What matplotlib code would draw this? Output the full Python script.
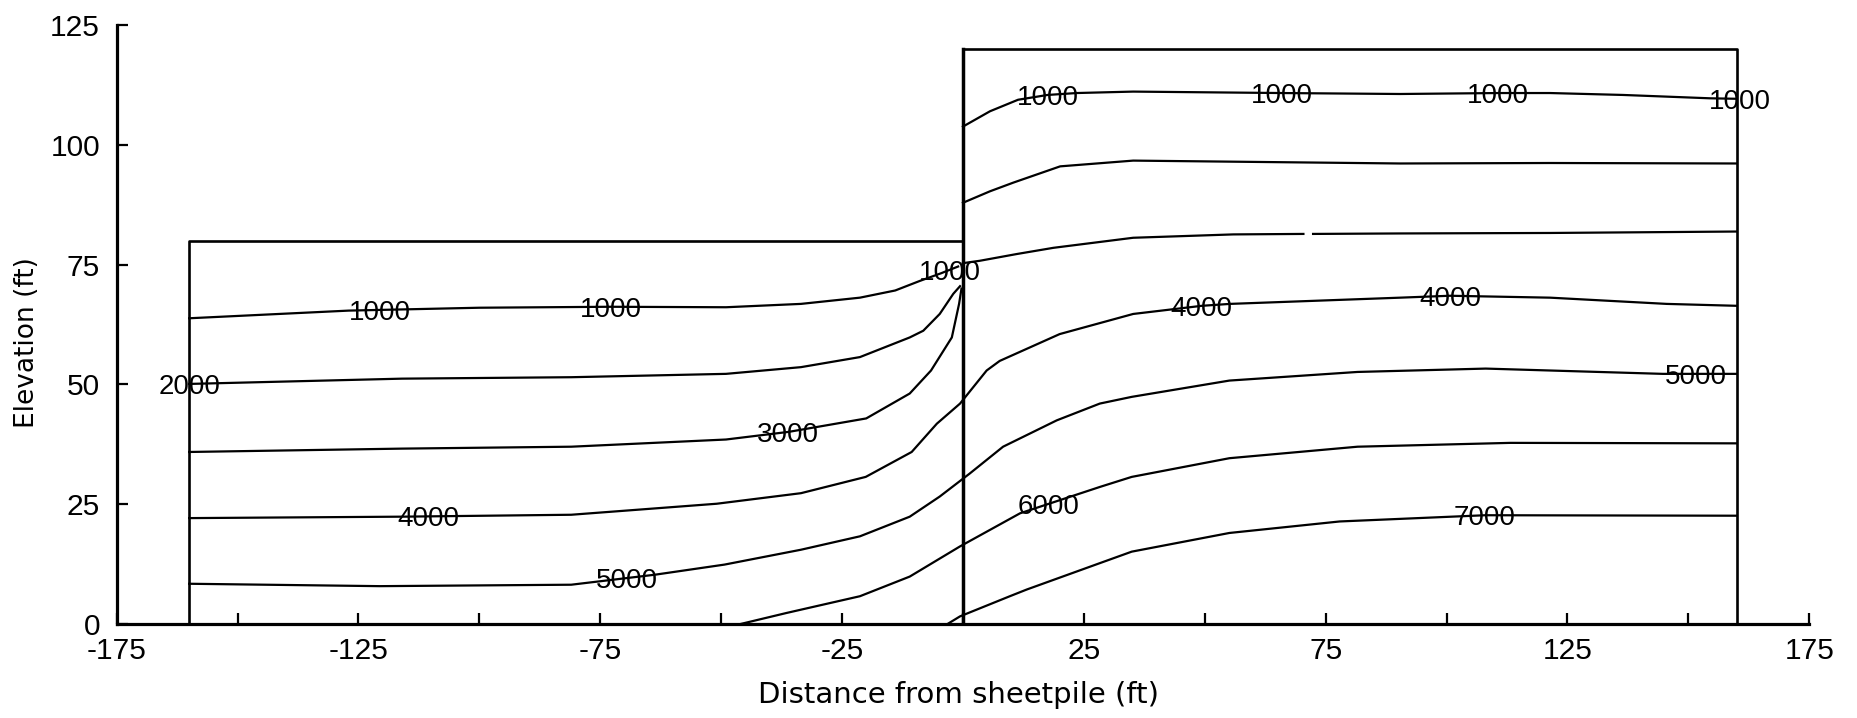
import numpy as np
import matplotlib
matplotlib.use("Agg")
import matplotlib.pyplot as plt
from matplotlib import font_manager

plt.rcParams['axes.unicode_minus'] = False

# soil profile outline (ft): retained side on the right, excavated side on the left
left_box_x = [-160, -160, 0]
left_box_y = [0, 80, 80]
right_box_x = [0, 0, 160, 160]
right_box_y = [0, 120, 120, 0]

# stress contours, traced per segment (x in ft, elevation in ft)
c1000_left_x = [-160, -127, -100, -73, -49, -33.5, -21.3, -14, -8.9, -4.5, -1]
c1000_left_y = [63.8, 65.4, 66.0, 66.2, 66.1, 66.8, 68.1, 69.6, 71.6, 73.2, 74.6]
c1000_right_x = [0, 5.6, 11.4, 17.5, 23.5, 35.2, 65.9, 90.4, 110.7, 121.4, 136.5, 154.5, 160]
c1000_right_y = [103.8, 107.0, 109.4, 110.4, 110.8, 111.1, 110.8, 110.6, 110.8, 110.8, 110.4, 109.7, 109.6]

c2000_left_x = [-160, -116, -81, -49, -33.5, -21.3, -11, -8.2, -4.8, -2, -0.6]
c2000_left_y = [50.1, 51.2, 51.5, 52.2, 53.6, 55.7, 59.8, 61.2, 64.7, 68.9, 70.5]
c2000_right_x = [0, 5.6, 10.4, 20.1, 35.2, 62.8, 90.4, 121.4, 160]
c2000_right_y = [87.9, 90.3, 92.1, 95.5, 96.7, 96.4, 96.1, 96.2, 96.1]

c3000_left_x = [-160, -116, -81, -49, -36, -20, -11, -6.6, -2.3, -0.8, -0.3]
c3000_left_y = [35.9, 36.6, 37.0, 38.5, 40.1, 42.9, 48.1, 52.9, 59.8, 66.8, 70.0]
c3000_right_x = [0, 3.5, 11.1, 18.7, 35.2, 55.9, 70.4, np.nan, 72.4, 90.4, 121.4, 160]
c3000_right_y = [75.3, 75.8, 77.2, 78.5, 80.6, 81.3, 81.4, np.nan, 81.4, 81.5, 81.6, 81.9]

c4000_x = [-160, -116, -81, -50.9, -33.5, -20.1, -10.6, -5.4, -0.6, 4.9, 7.6,
           20.0, 35.2, 49.4, 55.2, 90.4, 100.7, 121.4, 145.5, 160]
c4000_y = [22.1, 22.4, 22.8, 25.1, 27.3, 30.7, 35.9, 41.8, 46.0, 52.9, 54.9,
           60.5, 64.7, 66.4, 66.8, 68.1, 68.5, 68.1, 66.8, 66.4]

c5000_x = [-160, -120.6, -81, -63.6, -49.3, -33.5, -21.3, -11, -4.8, 1.4, 8.3,
           19.4, 28.3, 34.9, 55.1, 81.6, 108.1, 144.7, 160]
c5000_y = [8.4, 7.9, 8.2, 10.3, 12.4, 15.5, 18.3, 22.4, 26.6, 31.4, 37.0,
           42.5, 46.0, 47.4, 50.8, 52.6, 53.3, 52.2, 52.2]

c6000_x = [-46, -36.5, -21.3, -11, -0.6, 11.8, 28.3, 34.9, 55.1, 81.6, 113.2, 160]
c6000_y = [0, 2.3, 5.8, 9.9, 16.2, 23.1, 28.6, 30.7, 34.6, 37.0, 37.8, 37.7]

c7000_x = [-3.2, -0.6, 9.7, 13.2, 28.3, 34.9, 55.1, 77.9, 108, 160]
c7000_y = [0, 1.6, 5.8, 7.2, 12.7, 15.1, 19.0, 21.4, 22.7, 22.6]

segments = [
    (c1000_left_x, c1000_left_y), (c1000_right_x, c1000_right_y),
    (c2000_left_x, c2000_left_y), (c2000_right_x, c2000_right_y),
    (c3000_left_x, c3000_left_y), (c3000_right_x, c3000_right_y),
    (c4000_x, c4000_y), (c5000_x, c5000_y),
    (c6000_x, c6000_y), (c7000_x, c7000_y),
]

# inline labels: level, segment index, x position along the segment
label_level = [1000, 1000, 1000, 1000, 1000, 1000, 1000, 2000, 3000,
               4000, 4000, 4000, 5000, 5000, 6000, 7000]
label_seg = [0, 0, 0, 1, 1, 1, 1, 2, 4, 6, 6, 6, 7, 7, 8, 9]
label_x = [-120.5, -72.7, -2.6, 17.5, 65.9, 110.7, 160.7, -160, -36.1,
           -110.5, 49.4, 100.7, -69.4, 151.5, 17.6, 107.8]

x_ticks = [-175, -125, -75, -25, 25, 75, 125, 175]
x_minor = [-150, -100, -50, 0, 50, 100, 150]
y_ticks = [0, 25, 50, 75, 100, 125]

installed = {f.name for f in font_manager.fontManager.ttflist}
num_font = 'Liberation Sans' if 'Liberation Sans' in installed else 'DejaVu Sans'
text_font = 'DejaVu Sans'

fig = plt.figure(figsize=(18.57, 7.18), dpi=100)
ax = fig.add_axes([0.0628, 0.1309, 0.9115, 0.8343])

ax.plot(left_box_x, left_box_y, color='black', lw=1.9)
ax.plot(right_box_x, right_box_y, color='black', lw=1.9)
ax.plot([0, 0], [0, 120], color='black', lw=2.5)  # sheetpile

for sx, sy in segments:
    ax.plot(sx, sy, color='black', lw=1.6)

for lev, seg, lx in zip(label_level, label_seg, label_x):
    sx = np.array(segments[seg][0], dtype=float)
    sy = np.array(segments[seg][1], dtype=float)
    ok = ~np.isnan(sx)
    ly = np.interp(lx, sx[ok], sy[ok])
    ax.text(lx, ly, str(lev), ha='center', va='center_baseline',
            fontsize=20, family=num_font, color='black', zorder=5)

ax.set_xlim(-175, 175)
ax.set_ylim(0, 125)
ax.spines['top'].set_visible(False)
ax.spines['right'].set_visible(False)
ax.spines['left'].set_linewidth(2.3)
ax.spines['bottom'].set_linewidth(2.3)

ax.set_xticks(x_ticks)
ax.set_xticks(x_minor, minor=True)
ax.set_yticks(y_ticks)
ax.tick_params(axis='both', which='both', direction='in', length=8, width=1.6)
ax.tick_params(axis='x', which='major', pad=9)
ax.tick_params(axis='y', which='major', pad=12)
for lab in ax.get_xticklabels() + ax.get_yticklabels():
    lab.set_family(num_font)
    lab.set_fontsize(21.5)

ax.set_xlabel('Distance from sheetpile (ft)', fontsize=21, family=text_font)
ax.set_ylabel('Elevation (ft)', fontsize=19, family=text_font)
ax.xaxis.set_label_coords(0.4976, -0.095)
ax.yaxis.set_label_coords(-0.0453, 0.47)

fig.savefig('out.png', dpi=100)
